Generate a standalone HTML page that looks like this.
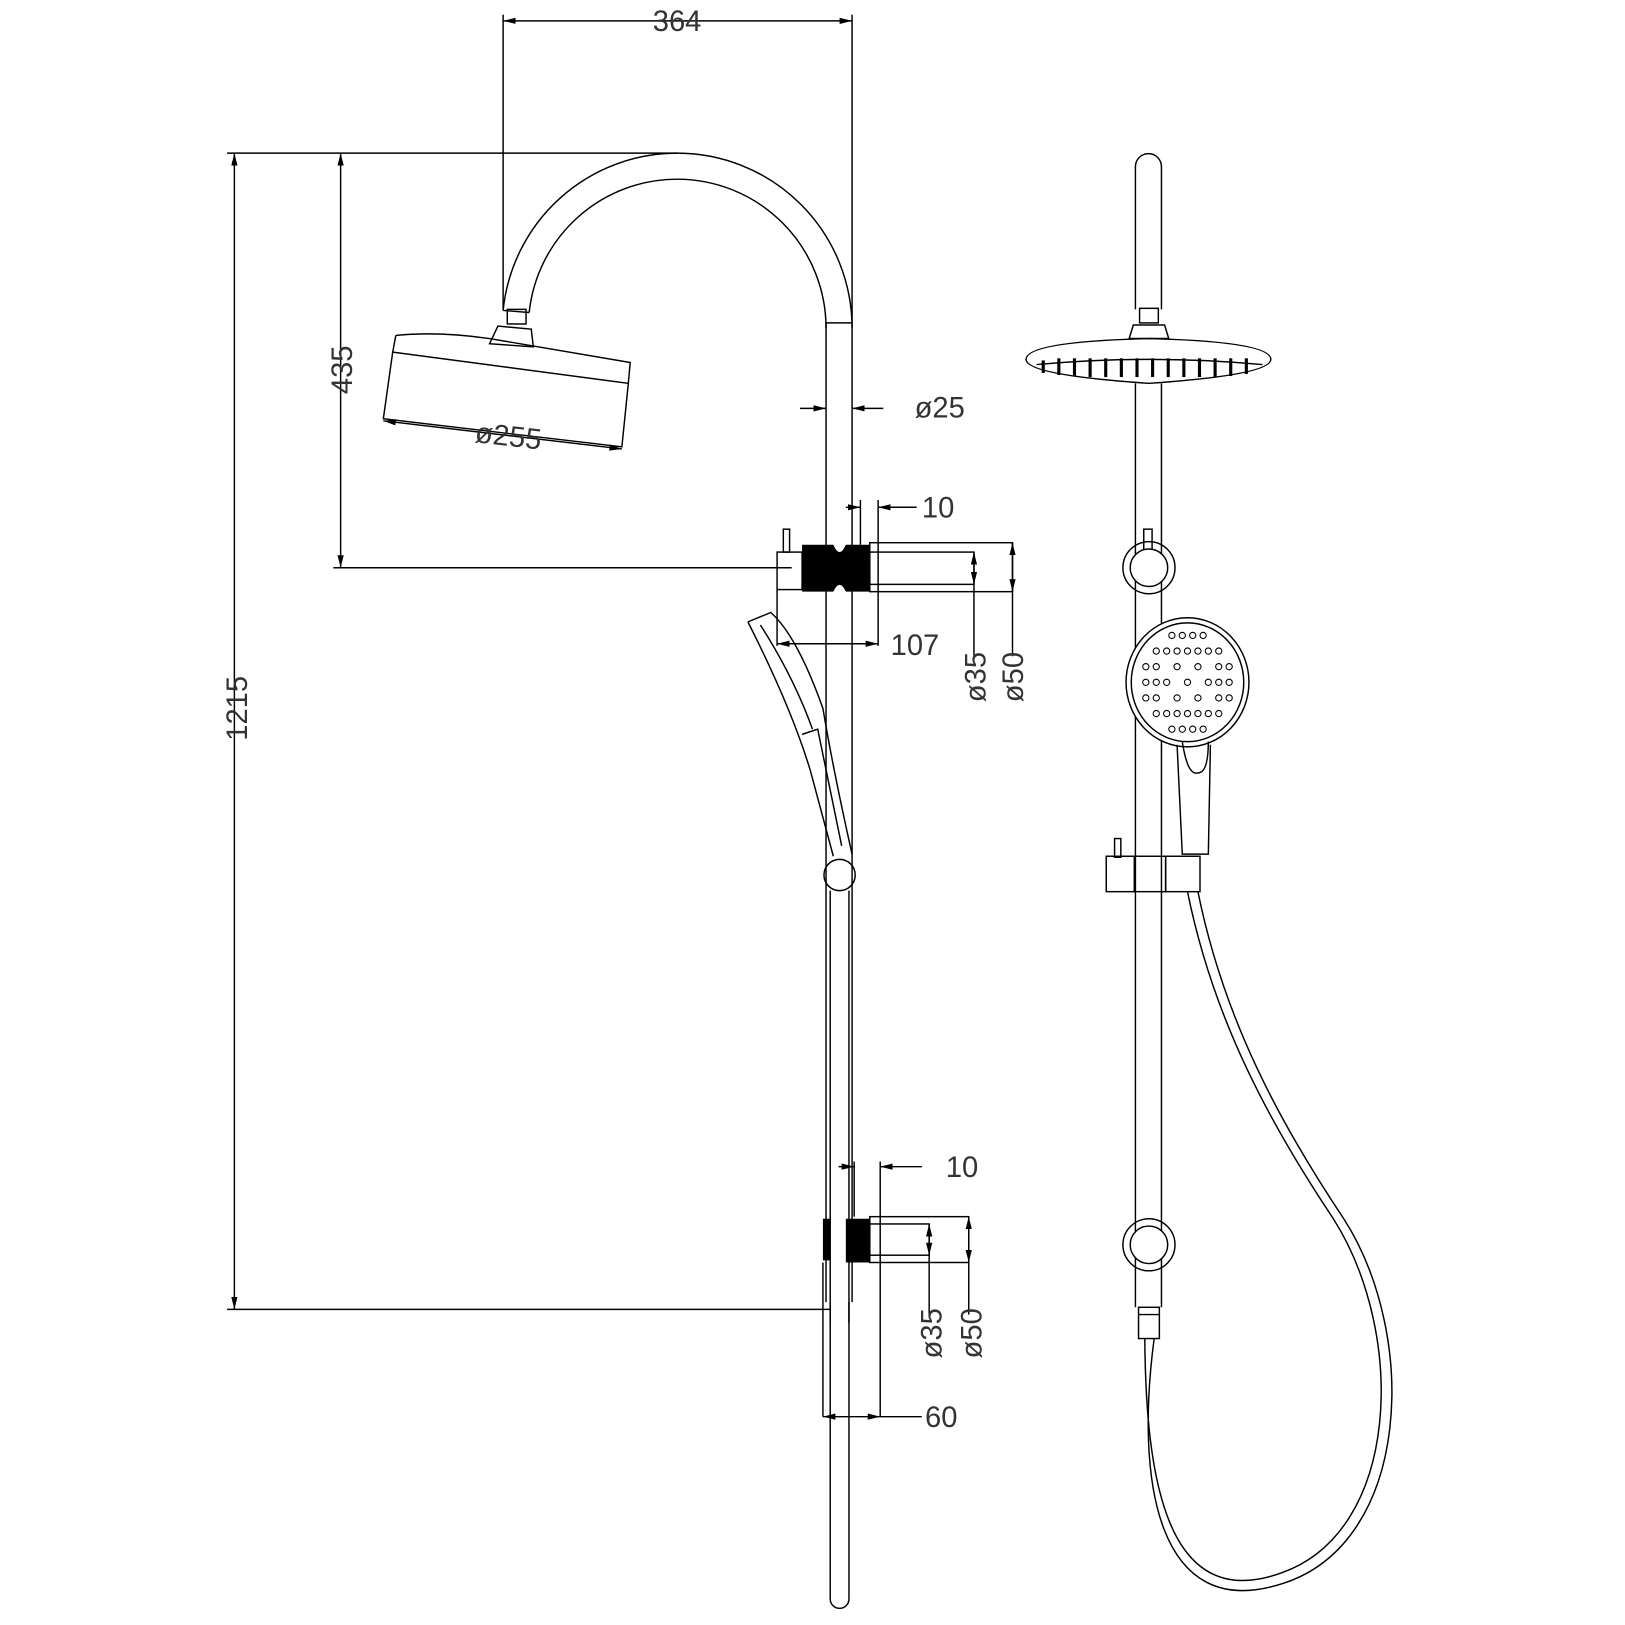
<!DOCTYPE html>
<html><head><meta charset="utf-8"><style>html,body{margin:0;padding:0;background:#fff}svg{display:block}text{font-family:"Liberation Sans",sans-serif;font-size:28px;fill:#333}</style></head>
<body>
<svg width="1625" height="1625" viewBox="0 0 1560 1560" xmlns="http://www.w3.org/2000/svg">
<defs><marker id="a" markerWidth="12" markerHeight="6" refX="12" refY="3" orient="auto-start-reverse" markerUnits="userSpaceOnUse"><path d="M0,0 L12,3 L0,6z" fill="#000"/></marker></defs>
<g fill="none" stroke="#000" stroke-width="1.4">
<!-- 364 dim -->
<line x1="483" y1="20" x2="818" y2="20" marker-start="url(#a)" marker-end="url(#a)"/>
<line x1="483" y1="14" x2="483" y2="298"/><line x1="818" y1="14" x2="818" y2="310"/>
<!-- 1215 -->
<line x1="225" y1="147" x2="225" y2="1257" marker-start="url(#a)" marker-end="url(#a)"/>
<line x1="218" y1="147" x2="650" y2="147"/><line x1="218" y1="1257" x2="797" y2="1257"/>
<!-- 435 -->
<line x1="327" y1="147" x2="327" y2="545" marker-start="url(#a)" marker-end="url(#a)"/>
<line x1="320" y1="545" x2="760" y2="545"/>
<!-- arm -->
<path d="M818,310 L818,315 A168,168 0 0 0 650,147 A168,168 0 0 0 483,298"/>
<path d="M793,310 L793,315 A143,143 0 0 0 650,172 A143,143 0 0 0 508,300"/>
<line x1="793" y1="310" x2="818" y2="310"/>
<line x1="483" y1="298" x2="508" y2="300"/>
<rect x="487" y="297" width="18" height="14"/>
<path d="M478,313 L510,316 L512,333 L470,330 Z"/>
<!-- head tilted -->
<path d="M380,322 Q420,318 470,325 L605,348 L603,370 M380,322 L377,338 L603,368 M377,338 L368,402 L597,429 L603,370"/>
<!-- 255 dim -->
<line x1="368" y1="404" x2="597" y2="431" marker-start="url(#a)" marker-end="url(#a)"/>
<!-- rail -->
<line x1="793" y1="310" x2="793" y2="1250"/><line x1="818" y1="310" x2="818" y2="1250"/>
<path d="M797,1250 L797,1535 A9,9 0 0 0 815,1535 L815,1250"/>
<!-- 25 dim -->
<line x1="768" y1="392" x2="793" y2="392" marker-end="url(#a)"/>
<line x1="848" y1="392" x2="818" y2="392" marker-end="url(#a)"/>
<!-- upper bracket -->
<rect x="752" y="508" width="6" height="22"/>
<rect x="746" y="530" width="24" height="36"/>
<rect x="835" y="521" width="137" height="47"/>
<rect x="835" y="530" width="100" height="31"/>
<line x1="826" y1="480" x2="826" y2="523"/><line x1="843" y1="480" x2="843" y2="620"/>
<line x1="812" y1="487" x2="826" y2="487" marker-end="url(#a)"/>
<line x1="880" y1="487" x2="843" y2="487" marker-end="url(#a)"/>
<line x1="746" y1="566" x2="746" y2="620"/>
<line x1="746" y1="618" x2="843" y2="618" marker-start="url(#a)" marker-end="url(#a)"/>
<line x1="935" y1="530" x2="935" y2="561" marker-start="url(#a)" marker-end="url(#a)"/><line x1="935" y1="561" x2="935" y2="630"/>
<line x1="972" y1="521" x2="972" y2="568" marker-start="url(#a)" marker-end="url(#a)"/><line x1="972" y1="568" x2="972" y2="630"/>
<!-- left handshower -->
<path d="M718,597 L740,588 Q765,610 790,680 Q800,740 818,820"/>
<path d="M718,597 Q760,680 778,740 L800,822"/>
<path d="M730,600 Q762,650 780,700"/>
<path d="M770,705 L785,700 L808,812"/>
<circle cx="806" cy="840" r="15"/>
<line x1="797" y1="855" x2="797" y2="1270"/><line x1="815" y1="855" x2="815" y2="1270"/>
<!-- lower bracket -->
<rect x="835" y="1168" width="95" height="44"/>
<rect x="835" y="1175" width="57" height="30"/>
<line x1="820" y1="1115" x2="820" y2="1168"/><line x1="845" y1="1115" x2="845" y2="1360"/>
<line x1="805" y1="1120" x2="820" y2="1120" marker-end="url(#a)"/>
<line x1="885" y1="1120" x2="845" y2="1120" marker-end="url(#a)"/>
<line x1="892" y1="1175" x2="892" y2="1205" marker-start="url(#a)" marker-end="url(#a)"/><line x1="892" y1="1205" x2="892" y2="1262"/>
<line x1="930" y1="1168" x2="930" y2="1212" marker-start="url(#a)" marker-end="url(#a)"/><line x1="930" y1="1212" x2="930" y2="1262"/>
<line x1="790" y1="1212" x2="790" y2="1360"/>
<line x1="790" y1="1360" x2="845" y2="1360" marker-start="url(#a)" marker-end="url(#a)"/>
<line x1="845" y1="1360" x2="885" y2="1360"/>
<!-- right view rail -->
<path d="M1090,297 L1090,160 A12.5,12.5 0 0 1 1115,160 L1115,297"/>
<rect x="1094" y="296" width="18" height="14"/>
<path d="M1088,312 L1118,312 L1122,325 L1084,325 Z"/>
<path d="M985,345 Q985,328 1103,325 Q1220,328 1220,345 Q1220,360 1103,368 Q985,360 985,345 Z"/>
<path d="M995,350 Q1103,340 1212,350"/>
<line x1="1090" y1="368" x2="1090" y2="1255"/><line x1="1115" y1="368" x2="1115" y2="1255"/>
<rect x="1093" y="1255" width="20" height="30"/>
<line x1="1093" y1="1262" x2="1113" y2="1262"/>
<rect x="1098" y="508" width="8" height="22"/>
<circle cx="1103" cy="545" r="25"/><circle cx="1103" cy="545" r="18" fill="#fff"/>
<circle cx="1103" cy="1195" r="25"/><circle cx="1103" cy="1195" r="18" fill="#fff"/>
<!-- hand shower front -->
<ellipse cx="1140" cy="655" rx="59" ry="62" fill="#fff"/>
<ellipse cx="1140" cy="655" rx="54" ry="57"/>
<path d="M1130,715 L1135,820 L1160,820 L1162,715"/>
<path d="M1135,712 Q1140,745 1150,742 Q1160,742 1160,712"/>
<rect x="1070" y="805" width="6" height="18"/>
<rect x="1062" y="822" width="27" height="34"/><rect x="1089" y="822" width="30" height="34"/><rect x="1119" y="822" width="33" height="34"/>
<!-- hose -->
<path d="M1140,856 C1165,980 1220,1080 1280,1170 C1350,1280 1345,1470 1230,1510 C1120,1550 1100,1420 1099,1285"/>
<path d="M1150,856 C1175,980 1230,1080 1290,1170 C1362,1282 1355,1480 1232,1520 C1110,1560 1090,1420 1108,1285"/>
</g>
<!-- filled parts -->
<g fill="#000">
<path d="M770,523 L800,523 Q806,537 812,523 L835,523 L835,568 L812,568 Q806,555 800,568 L770,568 Z"/>
<path d="M790,1170 L797,1170 L797,1210 L790,1210 Z"/>
<path d="M812,1170 L835,1170 L835,1212 L812,1212 Z"/>
<g>
<rect x="1000" y="346" width="3" height="12"/><rect x="1015" y="344" width="3" height="16"/><rect x="1030" y="344" width="3" height="17"/><rect x="1045" y="344" width="3" height="18"/><rect x="1060" y="344" width="3" height="18"/><rect x="1075" y="344" width="3" height="18"/><rect x="1090" y="344" width="3" height="18"/><rect x="1105" y="344" width="3" height="18"/><rect x="1120" y="344" width="3" height="18"/><rect x="1135" y="344" width="3" height="18"/><rect x="1150" y="344" width="3" height="18"/><rect x="1165" y="344" width="3" height="18"/><rect x="1180" y="344" width="3" height="17"/><rect x="1195" y="344" width="3" height="15"/>
</g>
</g>
<g fill="none" stroke="#000" stroke-width="1">
<circle cx="1110" cy="625" r="3"/><circle cx="1120" cy="625" r="3"/><circle cx="1130" cy="625" r="3"/><circle cx="1140" cy="625" r="3"/><circle cx="1150" cy="625" r="3"/><circle cx="1160" cy="625" r="3"/><circle cx="1170" cy="625" r="3"/>
<circle cx="1100" cy="640" r="3"/><circle cx="1110" cy="640" r="3"/><circle cx="1130" cy="640" r="3"/><circle cx="1150" cy="640" r="3"/><circle cx="1170" cy="640" r="3"/><circle cx="1180" cy="640" r="3"/>
<circle cx="1100" cy="655" r="3"/><circle cx="1110" cy="655" r="3"/><circle cx="1120" cy="655" r="3"/><circle cx="1140" cy="655" r="3"/><circle cx="1160" cy="655" r="3"/><circle cx="1170" cy="655" r="3"/><circle cx="1180" cy="655" r="3"/>
<circle cx="1100" cy="670" r="3"/><circle cx="1110" cy="670" r="3"/><circle cx="1130" cy="670" r="3"/><circle cx="1150" cy="670" r="3"/><circle cx="1170" cy="670" r="3"/><circle cx="1180" cy="670" r="3"/>
<circle cx="1110" cy="685" r="3"/><circle cx="1120" cy="685" r="3"/><circle cx="1130" cy="685" r="3"/><circle cx="1140" cy="685" r="3"/><circle cx="1150" cy="685" r="3"/><circle cx="1160" cy="685" r="3"/><circle cx="1170" cy="685" r="3"/>
<circle cx="1125" cy="610" r="3"/><circle cx="1135" cy="610" r="3"/><circle cx="1145" cy="610" r="3"/><circle cx="1155" cy="610" r="3"/>
<circle cx="1125" cy="700" r="3"/><circle cx="1135" cy="700" r="3"/><circle cx="1145" cy="700" r="3"/><circle cx="1155" cy="700" r="3"/>
</g>
<text x="650" y="30" text-anchor="middle">364</text>
<text x="878" y="401">ø25</text>
<text x="885" y="497">10</text>
<text x="855" y="629">107</text>
<text x="908" y="1130">10</text>
<text x="888" y="1370">60</text>
<text transform="translate(487,428) rotate(6.5)" text-anchor="middle">ø255</text>
<text transform="translate(237,680) rotate(-90)" text-anchor="middle">1215</text>
<text transform="translate(338,355) rotate(-90)" text-anchor="middle">435</text>
<text transform="translate(946,650) rotate(-90)" text-anchor="middle">ø35</text>
<text transform="translate(982,650) rotate(-90)" text-anchor="middle">ø50</text>
<text transform="translate(904,1280) rotate(-90)" text-anchor="middle">ø35</text>
<text transform="translate(942,1280) rotate(-90)" text-anchor="middle">ø50</text>
</svg>
</body></html>
